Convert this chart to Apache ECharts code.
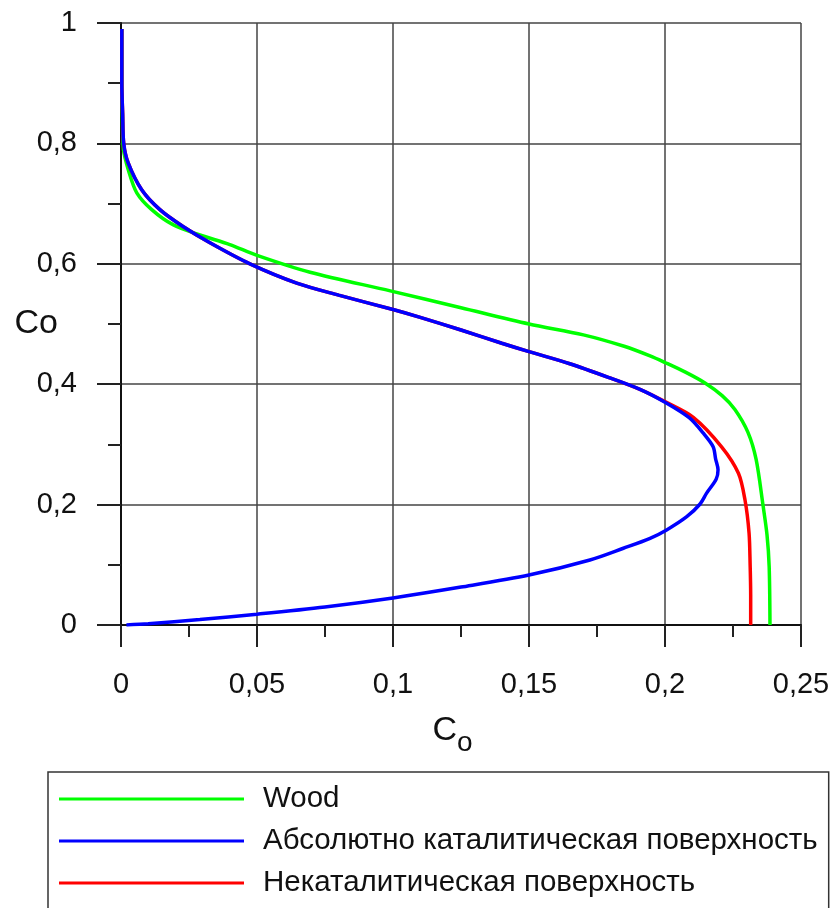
<!DOCTYPE html>
<html>
<head>
<meta charset="utf-8">
<script src="https://cdn.jsdelivr.net/npm/echarts@6/dist/echarts.min.js"></script>
<style>
html,body{margin:0;padding:0;background:#fff;}
#chart{width:837px;height:908px;}
</style>
</head>
<body>
<div id="chart"></div>
<script>
// Series names
const seriesNames = ['Wood', 'Абсолютно каталитическая поверхность', 'Некаталитическая поверхность'];

// Wood
const woodX = [0.0003,0.0003,0.0005,0.0009,0.0027,0.0058,0.0113,0.0191,0.029,0.04,0.05,0.0695,0.099,0.125,0.15,0.17,0.185,0.1945,0.2,0.2075,0.2147,0.221,0.2257,0.2305,0.2335,0.236,0.2375,0.2383,0.2386];
const woodY = [0.99,0.9,0.85,0.79,0.756,0.718,0.69,0.665,0.648,0.632,0.614,0.586,0.555,0.527,0.5,0.482,0.463,0.447,0.436,0.42,0.402,0.381,0.358,0.32,0.275,0.2,0.15,0.097,0];

// Absolutely catalytic surface
const catX = [0.0003,0.0003,0.0006,0.001,0.0026,0.0076,0.0143,0.0228,0.0327,0.0474,0.0646,0.08,0.1,0.11,0.125,0.14,0.15,0.165,0.18,0.191,0.2,0.209,0.214,0.2177,0.2186,0.2195,0.2188,0.2153,0.2129,0.208,0.2006,0.1945,0.1847,0.1724,0.15,0.125,0.1,0.075,0.05,0.029,0.01,0.002];
const catY = [0.99,0.9,0.85,0.8,0.768,0.723,0.69,0.662,0.635,0.6,0.568,0.548,0.524,0.511,0.49,0.468,0.454,0.434,0.41,0.391,0.37,0.344,0.319,0.296,0.276,0.258,0.242,0.219,0.201,0.18,0.158,0.144,0.1275,0.108,0.083,0.063,0.045,0.03,0.018,0.009,0.002,0];

// Non-catalytic surface
const noncatX = [0.0003,0.0003,0.0006,0.001,0.0026,0.0076,0.0143,0.0228,0.0327,0.0474,0.0646,0.08,0.1,0.11,0.125,0.14,0.15,0.165,0.18,0.191,0.2,0.2104,0.2208,0.227,0.2294,0.2309,0.2313,0.2315,0.2315];
const noncatY = [0.99,0.9,0.85,0.8,0.768,0.723,0.69,0.662,0.635,0.6,0.568,0.548,0.524,0.511,0.49,0.468,0.454,0.434,0.41,0.391,0.371,0.345,0.296,0.252,0.208,0.153,0.1,0.05,0];

// Axes
const xMin = 0, xMax = 0.25, xStep = 0.05;
const yMin = 0, yMax = 1, yStep = 0.2;

function pairs(xs, ys) { return xs.map((x, i) => [x, ys[i]]); }
function fmt(v) { return String(Math.round(v * 1000) / 1000).replace('.', ','); }

const FONT = "'Liberation Sans', Arial, sans-serif";
const LBL = 29;
const chart = echarts.init(document.getElementById('chart'), null, {renderer: 'canvas'});

chart.setOption({
  animation: false,
  backgroundColor: '#fff',
  textStyle: {fontFamily: FONT, color: '#111'},
  grid: {left: 121, right: 36, top: 23, bottom: 283, containLabel: false, outerBoundsMode: 'none'},
  xAxis: {
    type: 'value', min: xMin, max: xMax, interval: xStep,
    name: '{c|C}{s|o}', nameLocation: 'middle', nameGap: 80, nameMoveOverlap: false,
    nameTextStyle: {
      padding: [0, 17, 0, 0],
      rich: {
        c: {fontSize: 34, fontFamily: FONT, color: '#111'},
        s: {fontSize: 28, fontFamily: FONT, color: '#111', padding: [24, 0, 0, 0]}
      }
    },
    axisLine: {onZero: false, lineStyle: {color: '#111', width: 2}},
    axisTick: {show: true, inside: false, length: 22, lineStyle: {color: '#222', width: 2}},
    minorTick: {show: true, splitNumber: 2, length: 12, lineStyle: {color: '#222', width: 2}},
    axisLabel: {margin: 45, fontSize: LBL, fontFamily: FONT, color: '#111', formatter: fmt},
    splitLine: {show: true, lineStyle: {color: '#444', width: 1.5}}
  },
  yAxis: {
    type: 'value', min: yMin, max: yMax, interval: yStep,
    name: 'Co', nameLocation: 'middle', nameGap: 63, nameRotate: 0, nameMoveOverlap: false,
    nameTextStyle: {fontSize: 34, fontFamily: FONT, color: '#111'},
    axisLine: {onZero: false, lineStyle: {color: '#111', width: 2}},
    axisTick: {show: true, inside: false, length: 24, lineStyle: {color: '#222', width: 2}},
    minorTick: {show: true, splitNumber: 2, length: 13, lineStyle: {color: '#222', width: 2}},
    axisLabel: {margin: 44, fontSize: LBL, fontFamily: FONT, color: '#111', formatter: fmt},
    splitLine: {show: true, lineStyle: {color: '#444', width: 1.5}}
  },
  legend: {
    show: true, orient: 'vertical', left: 48, top: 772, height: 240,
    data: seriesNames,
    icon: 'rect', itemWidth: 185, itemHeight: 3, itemGap: 12,
    padding: [12, 11, 40, 11],
    borderColor: '#333', borderWidth: 1.5, backgroundColor: '#fff',
    selectedMode: false,
    textStyle: {fontSize: 29.5, lineHeight: 30, fontFamily: FONT, color: '#111', padding: [0, 0, 0, 14]}
  },
  series: [
    {name: seriesNames[0], type: 'line', data: pairs(woodX, woodY), showSymbol: false, smooth: 0.3,
     lineStyle: {color: '#00ff00', width: 3.5}, itemStyle: {color: '#00ff00'}, z: 2},
    {name: seriesNames[2], type: 'line', data: pairs(noncatX, noncatY), showSymbol: false, smooth: 0.3,
     lineStyle: {color: '#ff0000', width: 3.5}, itemStyle: {color: '#ff0000'}, z: 3},
    {name: seriesNames[1], type: 'line', data: pairs(catX, catY), showSymbol: false, smooth: 0.3,
     lineStyle: {color: '#0000ff', width: 3.5}, itemStyle: {color: '#0000ff'}, z: 4}
  ]
});
</script>
</body>
</html>
